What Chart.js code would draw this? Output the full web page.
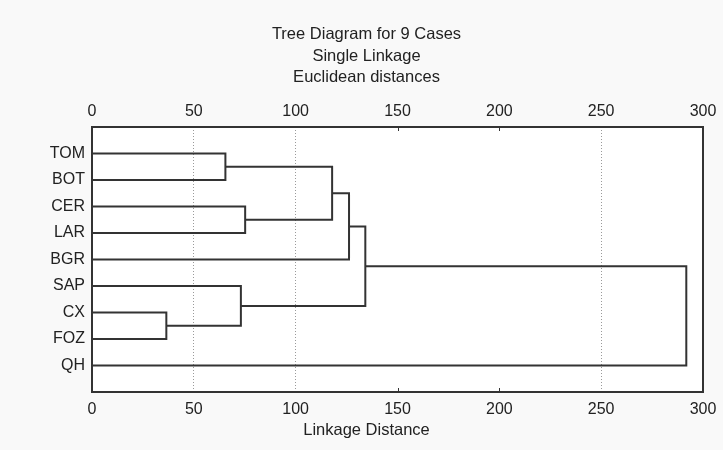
<!DOCTYPE html>
<html><head><meta charset="utf-8">
<script src="https://cdn.jsdelivr.net/npm/chart.js@4/dist/chart.umd.min.js"></script>
<style>html,body{margin:0;padding:0;background:#f9f9f9}#wrap{width:723px;height:450px}</style>
</head><body><div id="wrap"><canvas id="c" width="723" height="450"></canvas></div>
<script>
// Leaves (cases), top to bottom
const cases = ['TOM','BOT','CER','LAR','BGR','SAP','CX','FOZ','QH'];
// Merge steps: leaves are 0..8, each merge creates cluster 9, 10, ...
const mergeA = [6, 0, 5, 2, 10, 13, 14, 15];
const mergeB = [7, 1, 9, 3, 12, 4, 11, 8];
const mergeHeight = [36.5, 65.5, 73.1, 75.2, 117.9, 126.2, 134.2, 291.8];
const xTicks = [0, 50, 100, 150, 200, 250, 300];
const gridAt = [50, 100, 250];
const innerTickAt = [150, 200];

const FONT = '"Liberation Sans",Arial,sans-serif';
const INK = '#333';

// build node positions
const nodeX = cases.map(() => 0);
const nodeY = cases.map((_, i) => i);
const datasets = [];
mergeA.forEach((a, k) => {
  const b = mergeB[k], h = mergeHeight[k];
  datasets.push({
    data: [{x: nodeX[a], y: nodeY[a]}, {x: h, y: nodeY[a]}, {x: h, y: nodeY[b]}, {x: nodeX[b], y: nodeY[b]}],
    showLine: true, borderColor: INK, borderWidth: 2, pointRadius: 0, tension: 0, fill: false,
    xAxisID: 'x', yAxisID: 'y'
  });
  nodeX.push(h);
  nodeY.push((nodeY[a] + nodeY[b]) / 2);
});

const frame = {
  id: 'frame',
  beforeDraw(chart) {
    const {ctx, chartArea: a} = chart;
    ctx.save();
    ctx.fillStyle = '#f9f9f9';
    ctx.fillRect(0, 0, chart.width, chart.height);
    ctx.fillStyle = '#ffffff';
    ctx.fillRect(a.left, a.top, a.right - a.left, a.bottom - a.top);
    ctx.restore();
  },
  afterDraw(chart) {
    const {ctx, chartArea: a} = chart;
    const sx = chart.scales.x;
    ctx.save();
    ctx.strokeStyle = INK;
    ctx.lineWidth = 2;
    ctx.strokeRect(a.left, a.top, a.right - a.left, a.bottom - a.top);
    ctx.lineWidth = 1;
    innerTickAt.forEach(v => {
      const px = Math.round(sx.getPixelForValue(v)) + 0.5;
      ctx.beginPath();
      ctx.moveTo(px, a.top); ctx.lineTo(px, a.top + 4);
      ctx.moveTo(px, a.bottom); ctx.lineTo(px, a.bottom - 4);
      ctx.stroke();
    });
    ctx.restore();
  }
};

const tickFont = {family: FONT, size: 16};
const titleFont = {family: FONT, size: 16.5, weight: 'normal'};
new Chart(document.getElementById('c'), {
  type: 'scatter',
  data: {datasets},
  options: {
    responsive: false, animation: false, devicePixelRatio: 1,
    layout: {padding: {left: 10, right: 0, top: 0, bottom: 0}},
    plugins: {
      legend: {display: false}, tooltip: {enabled: false},
      title: {display: true, text: ['Tree Diagram for 9 Cases', 'Single Linkage', 'Euclidean distances'],
        color: '#222', font: {...titleFont, lineHeight: '21.5px'},
        padding: {top: 24, bottom: 0}},
      subtitle: {display: true, position: 'bottom', text: 'Linkage Distance', color: '#222',
        font: {...titleFont, lineHeight: '20px'}, padding: {top: 0, bottom: 10}}
    },
    scales: {
      x: {type: 'linear', position: 'bottom', min: 0, max: 300,
        afterBuildTicks: s => { s.ticks = xTicks.map(v => ({value: v})); },
        afterFit: s => { s.height = 28; s.paddingRight = 20; s.paddingLeft = 0; },
        border: {display: false, dash: [1, 2]},
        grid: {drawTicks: false, lineWidth: 1,
          color: c => gridAt.includes(c.tick && c.tick.value) ? '#9a9a9a' : 'rgba(0,0,0,0)'},
        ticks: {color: '#222', font: tickFont, padding: 8, maxRotation: 0}},
      x2: {type: 'linear', position: 'top', min: 0, max: 300,
        afterBuildTicks: s => { s.ticks = xTicks.map(v => ({value: v})); },
        afterFit: s => { s.height = 38.5; s.paddingRight = 20; s.paddingLeft = 0; },
        border: {display: false},
        grid: {display: false, drawTicks: false},
        ticks: {color: '#222', font: tickFont, padding: 6, maxRotation: 0}},
      y: {type: 'linear', reverse: true, min: -1, max: 9,
        afterBuildTicks: s => { s.ticks = cases.map((_, i) => ({value: i})); },
        afterFit: s => { s.width = 82; s.paddingTop = 0; s.paddingBottom = 0; },
        border: {display: false},
        grid: {display: false, drawTicks: false},
        ticks: {color: '#222', font: tickFont, padding: 7, callback: v => cases[v]}}
    }
  },
  plugins: [frame]
});
</script></body></html>
